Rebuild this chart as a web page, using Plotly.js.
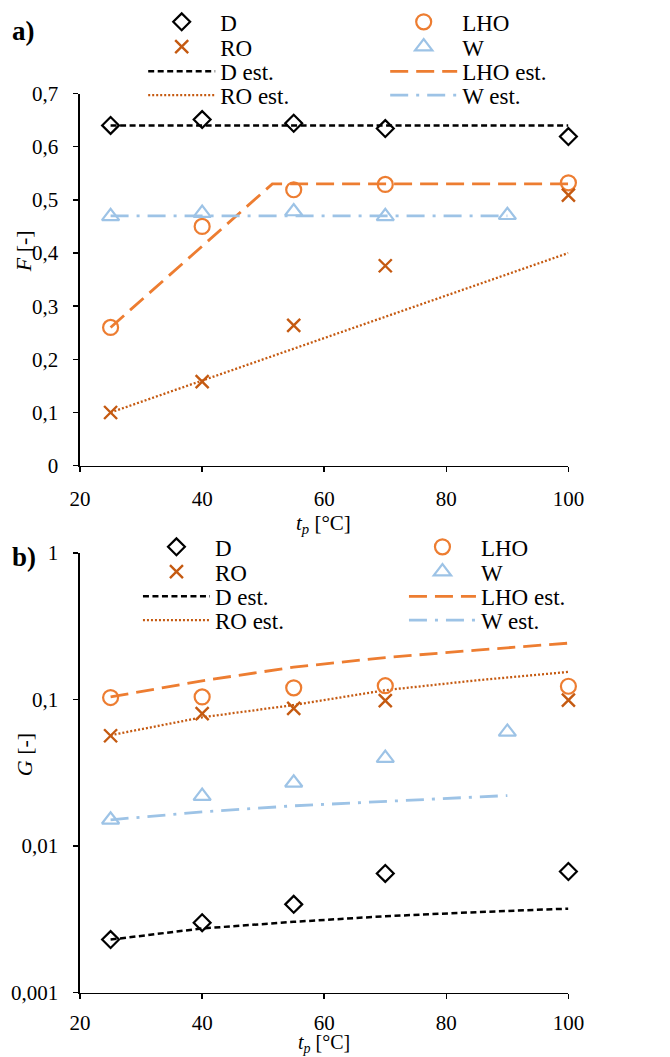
<!DOCTYPE html>
<html>
<head>
<meta charset="utf-8">
<script src="https://cdn.plot.ly/plotly-3.0.1.min.js"></script>
<style>html,body{margin:0;padding:0;background:#fff;}#chart{width:670px;height:1057px;}</style>
</head>
<body>
<div id="chart"></div>
<script>
// ---------- data ----------
const tp = [25, 40, 55, 70, 100];          // measurement temperatures (D, LHO, RO)
const tpW = [25, 40, 55, 70, 90];          // measurement temperatures (W)
const tpEst = [25, 40, 55, 70, 85, 100];   // estimate curve temperatures (panel b)

// panel a) F [-]
const F_D = [0.64, 0.651, 0.644, 0.634, 0.619];
const F_LHO = [0.26, 0.45, 0.519, 0.529, 0.532];
const F_RO = [0.10, 0.158, 0.264, 0.376, 0.509];
const F_W = [0.469, 0.475, 0.478, 0.469, 0.471];
const F_D_est_x = [25, 100];
const F_D_est = [0.64, 0.64];
const F_LHO_est_x = [25, 51.5, 100];
const F_LHO_est = [0.26, 0.53, 0.53];
const F_RO_est_x = [25, 100];
const F_RO_est = [0.10, 0.40];
const F_W_est_x = [25, 90];
const F_W_est = [0.47, 0.47];

// panel b) G [-]
const G_D = [0.0023, 0.0030, 0.0040, 0.0065, 0.0067];
const G_LHO = [0.103, 0.104, 0.120, 0.124, 0.123];
const G_RO = [0.0565, 0.080, 0.087, 0.098, 0.099];
const G_W = [0.0151, 0.0219, 0.027, 0.0398, 0.060];
const G_D_est = [0.0023, 0.00274, 0.00304, 0.00332, 0.00354, 0.00374];
const G_LHO_est = [0.104, 0.134, 0.166, 0.193, 0.217, 0.242];
const G_RO_est = [0.057, 0.0755, 0.0916, 0.1156, 0.135, 0.154];
const G_W_est = [0.0151, 0.0171, 0.0188, 0.0202, 0.0221];

const xTicks = [20, 40, 60, 80, 100];
const gTickVals = [0.001, 0.01, 0.1, 1];
const gTickText = ['0,001', '0,01', '0,1', '1'];

// ---------- style ----------
const FONT = 'Liberation Serif, Times New Roman, serif';
const C_D = '#000000', C_LHO = '#ED7D31', C_RO = '#C55A11', C_W = '#9DC3E6';
const W = 670, H = 1057;
const px = v => v / W, py = v => 1 - v / H;

const mk = {
  D: {symbol: 'diamond-open', size: 13, color: C_D, line: {width: 2.2, color: C_D}},
  LHO: {symbol: 'circle-open', size: 15, color: C_LHO, line: {width: 2.2, color: C_LHO}},
  RO: {symbol: 'x-thin-open', size: 13, color: C_RO, line: {width: 2.4, color: C_RO}},
  W: {symbol: 'triangle-up-open', size: 15, color: C_W, line: {width: 2.2, color: C_W}}
};
const ln = {
  D: {color: C_D, width: 2.5, dash: '6px,3.5px'},
  LHO: {color: C_LHO, width: 2.8, dash: '18px,8px'},
  RO: {color: C_RO, width: 2.3, dash: '2px,2px'},
  W: {color: C_W, width: 2.8, dash: '18px,8px,3px,8px'}
};

function pts(name, x, y, xa, ya, m, lg) {
  return {type: 'scatter', mode: 'markers', name: name, x: x, y: y, xaxis: xa, yaxis: ya,
          marker: m, cliponaxis: false, legend: lg, showlegend: true};
}
function est(name, x, y, xa, ya, l, lg) {
  return {type: 'scatter', mode: 'lines', name: name, x: x, y: y, xaxis: xa, yaxis: ya,
          line: l, cliponaxis: false, legend: lg, showlegend: true};
}

const data = [
  // panel a, lines first so markers are above
  est('D est.', F_D_est_x, F_D_est, 'x', 'y', ln.D, 'legend3'),
  est('LHO est.', F_LHO_est_x, F_LHO_est, 'x', 'y', ln.LHO, 'legend3'),
  est('RO est.', F_RO_est_x, F_RO_est, 'x', 'y', ln.RO, 'legend4'),
  est('W est.', F_W_est_x, F_W_est, 'x', 'y', ln.W, 'legend4'),
  pts('D', tp, F_D, 'x', 'y', mk.D, 'legend'),
  pts('LHO', tp, F_LHO, 'x', 'y', mk.LHO, 'legend'),
  pts('RO', tp, F_RO, 'x', 'y', mk.RO, 'legend2'),
  pts('W', tpW, F_W, 'x', 'y', mk.W, 'legend2'),
  // panel b
  est('D est.', tpEst, G_D_est, 'x2', 'y2', ln.D, 'legend7'),
  est('LHO est.', tpEst, G_LHO_est, 'x2', 'y2', ln.LHO, 'legend7'),
  est('RO est.', tpEst, G_RO_est, 'x2', 'y2', ln.RO, 'legend8'),
  est('W est.', tpW, G_W_est, 'x2', 'y2', ln.W, 'legend8'),
  pts('D', tp, G_D, 'x2', 'y2', mk.D, 'legend5'),
  pts('LHO', tp, G_LHO, 'x2', 'y2', mk.LHO, 'legend5'),
  pts('RO', tp, G_RO, 'x2', 'y2', mk.RO, 'legend6'),
  pts('W', tpW, G_W, 'x2', 'y2', mk.W, 'legend6')
];

function leg(xLeft, yCenter, ew) {
  return {x: px(xLeft), xanchor: 'left', y: py(yCenter), yanchor: 'middle',
          orientation: 'h', itemwidth: 67, entrywidth: ew, entrywidthmode: 'pixels',
          bgcolor: 'rgba(0,0,0,0)', borderwidth: 0, traceorder: 'normal',
          font: {family: FONT, size: 23, color: '#000'}, itemclick: false, itemdoubleclick: false};
}

const axBase = {
  showline: true, linecolor: '#000', linewidth: 1.6, showgrid: false, zeroline: false,
  ticks: 'outside', ticklen: 5, tickwidth: 1.6, tickcolor: '#000',
  tickfont: {family: FONT, size: 21, color: '#000'}, fixedrange: true, mirror: false
};
const xDom = [px(91.7), px(651)];

const layout = {
  width: W, height: H,
  margin: {l: 0, r: 0, t: 0, b: 0},
  paper_bgcolor: '#fff', plot_bgcolor: 'rgba(0,0,0,0)',
  separators: ', ',
  showlegend: true, hovermode: false,
  font: {family: FONT, color: '#000'},
  xaxis: Object.assign({}, axBase, {domain: xDom, range: [20, 100], tickvals: xTicks, anchor: 'y', ticklabelstandoff: 9}),
  yaxis: Object.assign({}, axBase, {domain: [py(460), py(84.3)], range: [0, 0.7], dtick: 0.1, tick0: 0, anchor: 'x', ticklabelstandoff: 11}),
  xaxis2: Object.assign({}, axBase, {domain: xDom, range: [20, 100], tickvals: xTicks, anchor: 'y2', ticklabelstandoff: 6}),
  yaxis2: Object.assign({}, axBase, {domain: [py(992), py(548)], type: 'log', range: [-3, 0],
           tickvals: gTickVals, ticktext: gTickText, anchor: 'x2', ticklabelstandoff: 11}),
  legend: leg(164, 12, 160),
  legend2: leg(164, 37, 160),
  legend3: leg(164, 62, 160),
  legend4: leg(164, 86, 160),
  legend5: leg(158, 542, 184),
  legend6: leg(158, 567, 184),
  legend7: leg(158, 592, 184),
  legend8: leg(158, 616, 184),
  annotations: [
    {text: '<b>a)</b>', xref: 'paper', yref: 'paper', x: px(12), y: py(21), xanchor: 'left', yanchor: 'middle',
     showarrow: false, font: {family: FONT, size: 27, color: '#000'}},
    {text: '<b>b)</b>', xref: 'paper', yref: 'paper', x: px(12), y: py(552), xanchor: 'left', yanchor: 'middle',
     showarrow: false, font: {family: FONT, size: 27, color: '#000'}},
    {text: '<i>F</i> [-]', xref: 'paper', yref: 'paper', x: px(27), y: py(244), xanchor: 'center', yanchor: 'middle',
     textangle: -90, showarrow: false, font: {family: FONT, size: 22, color: '#000'}},
    {text: '<i>G</i> [-]', xref: 'paper', yref: 'paper', x: px(29), y: py(752), xanchor: 'center', yanchor: 'middle',
     textangle: -90, showarrow: false, font: {family: FONT, size: 22, color: '#000'}},
    {text: '<i>t<sub>p</sub></i> [°C]', xref: 'paper', yref: 'paper', x: px(371), y: py(519), xanchor: 'center', yanchor: 'middle',
     showarrow: false, font: {family: FONT, size: 21, color: '#000'}},
    {text: '<i>t<sub>p</sub></i> [°C]', xref: 'paper', yref: 'paper', x: px(371), y: 0, xanchor: 'center', yanchor: 'bottom',
     borderpad: 0, showarrow: false, font: {family: FONT, size: 20, color: '#000'}}
  ]
};

Plotly.newPlot('chart', data, layout, {staticPlot: true, displayModeBar: false});
</script>
</body>
</html>
